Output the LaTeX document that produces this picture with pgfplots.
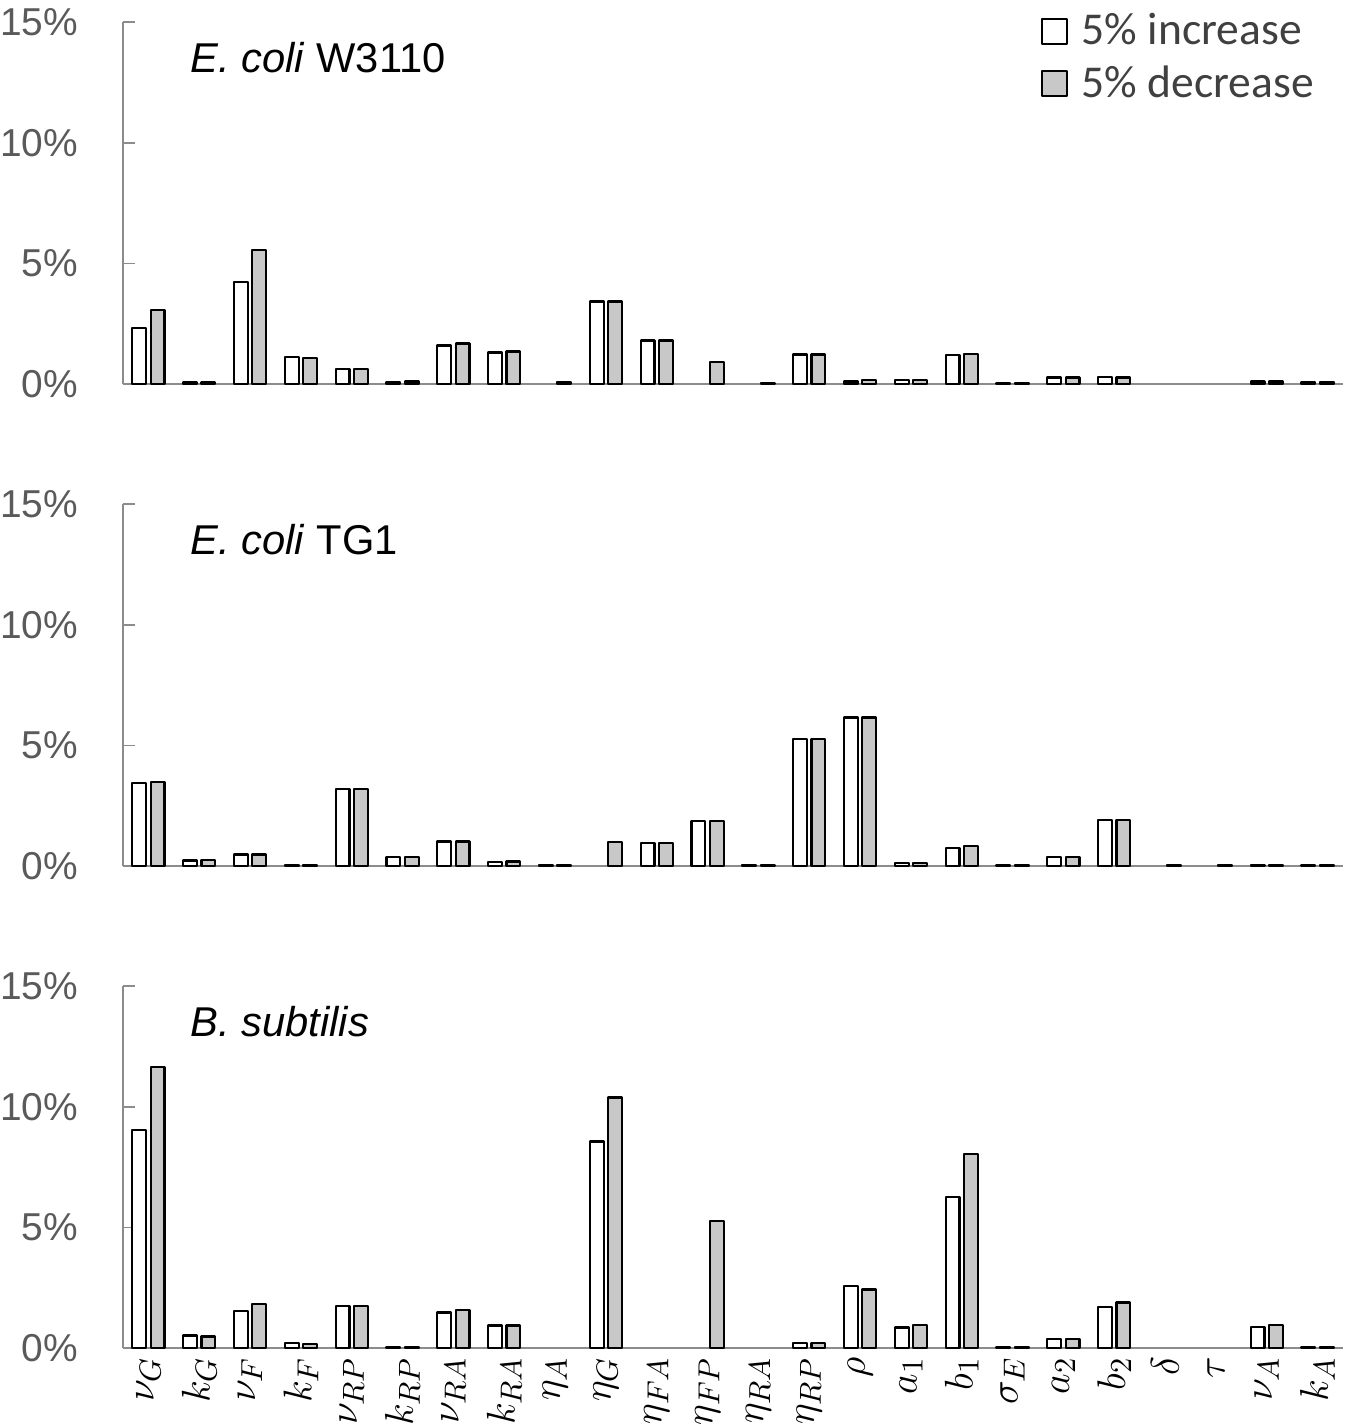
\documentclass[border=0pt]{standalone}
\usepackage{fontspec}
\setmainfont{Liberation Sans}
\newfontfamily\calibri{Carlito}
\usepackage{pgfplots}
\pgfplotsset{compat=1.18}
\definecolor{axgray}{RGB}{140,140,140}
\definecolor{tickgray}{RGB}{90,90,90}
\definecolor{barfill}{RGB}{200,200,200}
\pgfplotsset{
  panel/.style={
    scale only axis, width=439.2pt, height=130.32pt,
    xmin=-0.5, xmax=23.5, ymin=0, ymax=15,
    ybar=1.6pt, bar width=5pt,
    axis x line=bottom, axis y line=left,
    axis line style={draw=axgray, line width=0.6pt, -},
    ytick={0,5,10,15}, yticklabels={0\%,5\%,10\%,15\%},
    tick align=inside, major tick length=4.3pt,
    ytick style={draw=axgray, line width=0.6pt},
    xtick style={draw=none},
    yticklabel style={font=\fontsize{14}{14}\selectfont, text=tickgray, inner sep=0pt, xshift=-16pt},
    clip=false,
  },
  incbar/.style={draw=black, fill=white, line width=0.8pt, line join=round},
  decbar/.style={draw=black, fill=barfill, line width=0.8pt, line join=round},
}
\newcommand{\ttl}[1]{\node[anchor=west, inner sep=0pt, font=\fontsize{15}{15}\selectfont] at (rel axis cs:0.055,0.903) {#1};}
\begin{document}
\begin{tikzpicture}
\path[use as bounding box] (-44.28pt,138.24pt) rectangle (441.72pt,-375.84pt);
% Panel 1
\begin{axis}[panel, at={(0pt,0pt)}, anchor=south west, xtick=\empty,
  legend style={at={(rel axis cs:0.752,1.04)}, anchor=north west, draw=none, fill=none,
    font=\calibri\fontsize{16.4}{18}\selectfont, text=black!75, row sep=2pt, column sep=3pt, inner sep=0pt,
    cells={anchor=west}},
  legend cell align=left]
\addplot[incbar, legend image code/.code={\draw[draw=black, fill=white, line width=0.7pt] (0pt,-4.5pt) rectangle (9pt,4.5pt);}] coordinates {
(0,2.31) (1,0.06) (2,4.24) (3,1.13) (4,0.63) (5,0.07) (6,1.60) (7,1.31)
(9,3.42) (10,1.80) (13,1.22) (14,0.10) (15,0.15) (16,1.20)
(17,0.05) (18,0.27) (19,0.30) (22,0.10) (23,0.07)};
\addlegendentry{5\% increase}
\addplot[decbar, legend image code/.code={\draw[draw=black, fill=barfill, line width=0.7pt] (0pt,-4.5pt) rectangle (9pt,4.5pt);}] coordinates {
(0,3.06) (1,0.06) (2,5.55) (3,1.07) (4,0.63) (5,0.10) (6,1.68) (7,1.35)
(8,0.08) (9,3.42) (10,1.80) (11,0.90) (12,0.05) (13,1.22) (14,0.15) (15,0.16) (16,1.24)
(17,0.04) (18,0.27) (19,0.27) (22,0.10) (23,0.07)};
\addlegendentry{5\% decrease}
\ttl{\textit{E. coli} W3110}
\end{axis}
% Panel 2
\begin{axis}[panel, at={(0pt,-173.52pt)}, anchor=south west, xtick=\empty]
\addplot[incbar] coordinates {
(0,3.43) (1,0.23) (2,0.48) (3,0.04) (4,3.20) (5,0.36) (6,1.02) (7,0.18)
(8,0.03) (10,0.94) (11,1.88) (12,0.05) (13,5.26) (14,6.15) (15,0.12) (16,0.76)
(17,0.04) (18,0.37) (19,1.92) (22,0.04) (23,0.04)};
\addplot[decbar] coordinates {
(0,3.48) (1,0.25) (2,0.48) (3,0.04) (4,3.20) (5,0.36) (6,1.02) (7,0.19)
(8,0.03) (9,0.98) (10,0.94) (11,1.88) (12,0.05) (13,5.26) (14,6.15) (15,0.12) (16,0.82)
(17,0.04) (18,0.37) (19,1.92) (20,0.04) (21,0.04) (22,0.04) (23,0.04)};
\ttl{\textit{E. coli} TG1}
\end{axis}
% Panel 3
\begin{axis}[panel, at={(0pt,-347.04pt)}, anchor=south west,
  xtick={0,...,23},
  xticklabels={$\nu_G$,$k_G$,$\nu_F$,$k_F$,$\nu_{RP}$,$k_{RP}$,$\nu_{RA}$,$k_{RA}$,$\eta_A$,$\eta_G$,$\eta_{FA}$,$\eta_{FP}$,$\eta_{RA}$,$\eta_{RP}$,$\rho$,$a_1$,$b_1$,$\sigma_E$,$a_2$,$b_2$,$\delta$,$\tau$,$\nu_A$,$k_A$},
  xticklabel style={rotate=90, anchor=east, font=\fontsize{15}{15}\selectfont, inner sep=3pt}]
\addplot[incbar] coordinates {
(0,9.04) (1,0.52) (2,1.53) (3,0.20) (4,1.74) (5,0.04) (6,1.47) (7,0.93)
(9,8.56) (13,0.20) (14,2.56) (15,0.85) (16,6.27)
(17,0.04) (18,0.38) (19,1.71) (22,0.88) (23,0.05)};
\addplot[decbar] coordinates {
(0,11.64) (1,0.48) (2,1.81) (3,0.18) (4,1.74) (5,0.04) (6,1.56) (7,0.93)
(9,10.38) (11,5.26) (13,0.20) (14,2.42) (15,0.95) (16,8.04)
(17,0.04) (18,0.38) (19,1.89) (22,0.95) (23,0.05)};
\ttl{\textit{B. subtilis}}
\end{axis}
\end{tikzpicture}
\end{document}
